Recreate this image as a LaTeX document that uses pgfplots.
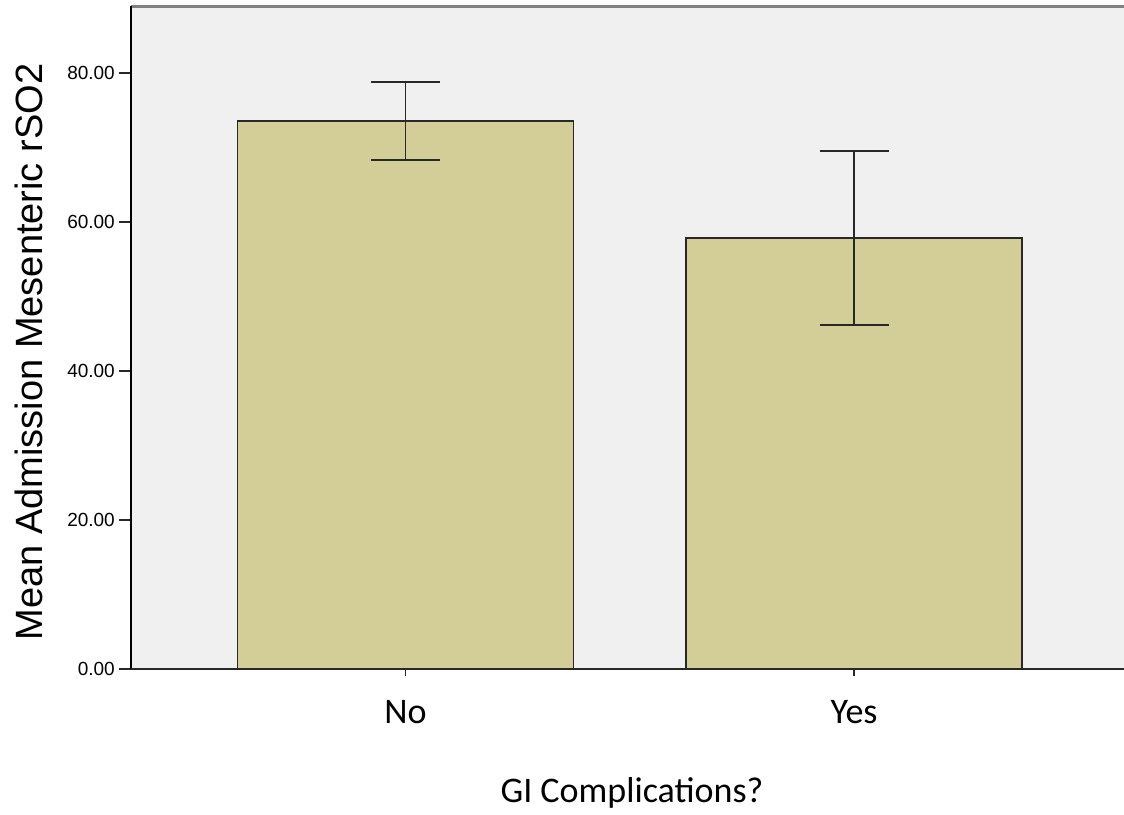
\documentclass[border=0pt]{standalone}
\usepackage{pgfplots}
\pgfplotsset{compat=1.18}
\usepackage{fontspec}
\setmainfont{Carlito}
\newfontfamily\arial{Liberation Sans}

\definecolor{barfill}{RGB}{211,206,151}
\definecolor{plotbg}{RGB}{240,240,240}
\definecolor{edge}{RGB}{40,40,40}

\begin{document}
\begin{tikzpicture}
\useasboundingbox (-131pt,-145pt) rectangle (993pt,669pt);
\begin{axis}[
    scale only axis,
    width=993pt, height=662.5pt,
    xmin=-0.612, xmax=1.602,
    ymin=0, ymax=88.93,
    axis background/.style={fill=plotbg},
    axis line style={draw=none},
    xtick={0,1}, xticklabels={No,Yes},
    ytick={0,20,40,60,80},
    xtick pos=bottom, ytick pos=left,
    tick align=outside,
    major tick length=12pt,
    x tick style={draw=none},
    y tick style={edge, line width=1.6pt},
    yticklabel={\pgfmathprintnumber[fixed,fixed zerofill,precision=2]{\tick}},
    /pgf/number format/assume math mode=true,
    yticklabel style={font=\arial\fontsize{19}{19}\selectfont, inner sep=0pt, anchor=east, xshift=-4pt},
    xticklabel style={font=\fontsize{36}{36}\selectfont, inner sep=0pt, anchor=base, yshift=-42pt},
    ylabel={Mean Admission Mesenteric rSO2},
    ylabel style={font=\arial\fontsize{38}{38}\selectfont, at={(axis description cs:-0.0896,0.4785)}, anchor=base, inner sep=0pt},
    xlabel={GI Complications?},
    xlabel style={font=\fontsize{36}{36}\selectfont, at={(axis description cs:0.5045,-0.2008)}, anchor=base, inner sep=0pt},
    clip=false,
]
\addplot[ybar, bar width=336pt, fill=barfill, draw=edge, line width=1.8pt,
    error bars/.cd, y dir=both, y explicit, error mark=|,
    error bar style={edge, line width=1.6pt},
    error mark options={edge, line width=1.6pt, mark size=34.5pt}]
coordinates {
    (0,73.56) +- (0,5.23)
    (1,57.85) +- (0,11.70)
};
\draw[gray, line width=2.5pt] (rel axis cs:0,1) -- (rel axis cs:1,1);
\draw[black, line width=1.8pt] (rel axis cs:0,0) -- (rel axis cs:0,1);
\draw[edge, line width=1.8pt] (rel axis cs:0,0) -- (rel axis cs:1,0);
\draw[edge, line width=1.6pt] (axis cs:0,0) -- ++(0pt,-7pt);
\draw[edge, line width=1.6pt] (axis cs:1,0) -- ++(0pt,-7pt);
\end{axis}
\end{tikzpicture}
\end{document}
